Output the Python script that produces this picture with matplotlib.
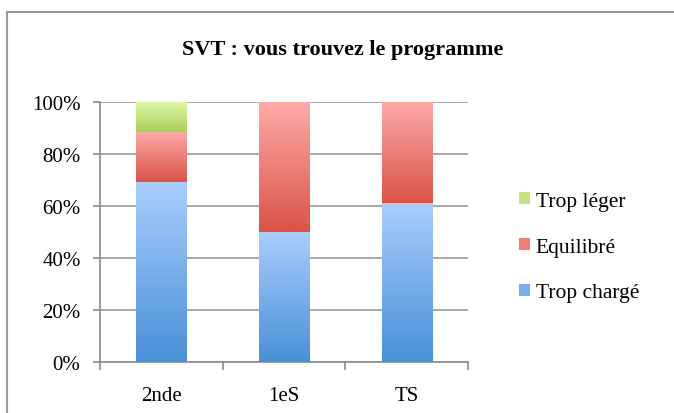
import matplotlib.pyplot as plt
import numpy as np
from matplotlib.colors import LinearSegmentedColormap
from matplotlib.patches import Rectangle

# Data (share of answers, in %)
categories = ['2nde', '1eS', 'TS']
trop_charge = [69.2, 50.0, 61.0]
equilibre = [19.2, 50.0, 39.0]
trop_leger = [11.6, 0.0, 0.0]
series_names = ['Trop chargé', 'Equilibré', 'Trop léger']

# gradient colours (top, bottom) for each series
grads = {
    'Trop chargé': ('#a9cdfd', '#4a90d8'),
    'Equilibré': ('#fdaaa9', '#da5449'),
    'Trop léger': ('#e0f8a8', '#a8d05a'),
}

plt.rcParams['font.family'] = ['Liberation Serif', 'DejaVu Serif']

fig = plt.figure(figsize=(6.74, 4.14), dpi=100)
ax = fig.add_axes([100 / 674, 1 - 363 / 414, 368 / 674, 260 / 414])

x = np.arange(len(categories))
bottom = np.zeros(len(categories))
handles = []
for name, vals in zip(series_names, [trop_charge, equilibre, trop_leger]):
    top_c, bot_c = grads[name]
    cmap = LinearSegmentedColormap.from_list(name, [bot_c, top_c])
    bars = ax.bar(x, vals, 0.41, bottom=bottom, color=top_c, edgecolor='none',
                  label=name, zorder=2)
    for b in bars:
        if b.get_height() <= 0:
            continue
        x0, y0 = b.get_x(), b.get_y()
        img = ax.imshow(np.linspace(0, 1, 100).reshape(-1, 1), cmap=cmap,
                        origin='lower', aspect='auto',
                        extent=[x0, x0 + b.get_width(), y0, y0 + b.get_height()],
                        zorder=3)
        img.set_clip_path(b)
    handles.append(bars)
    bottom += np.array(vals)

ax.set_xlim(-0.5, len(categories) - 0.5)
ax.set_ylim(0, 100)
ax.set_yticks(range(0, 101, 20))
ax.set_yticklabels([f'{v}%' for v in range(0, 101, 20)], fontsize=15)
ax.set_xticks(x)
ax.set_xticklabels(categories, fontsize=15)
ax.tick_params(axis='x', length=0, pad=17)
ax.tick_params(axis='y', length=5, color='#8c8c8c', width=1.2, pad=9)
ax.set_xticks([-0.5, 0.5, 1.5, 2.5], minor=True)
ax.tick_params(axis='x', which='minor', length=6, color='#8c8c8c', width=1.2)
ax.grid(axis='y', color='#999999', linewidth=1.2, zorder=0)
ax.set_axisbelow(True)
for s in ['top', 'right']:
    ax.spines[s].set_visible(False)
ax.spines['left'].set_color('#8c8c8c')
ax.spines['left'].set_linewidth(1.2)
ax.spines['bottom'].set_color('#8c8c8c')
ax.spines['bottom'].set_linewidth(1.2)

fig.text(343 / 674, 1 - 50 / 414, 'SVT : vous trouvez le programme',
         fontsize=16, fontweight='bold', ha='center', va='center')

leg = fig.legend(handles[::-1], series_names[::-1], loc='center left',
                 bbox_to_anchor=(500 / 674, 1 - 248 / 414), frameon=False,
                 fontsize=15.5, handlelength=0.5, handleheight=0.5,
                 handletextpad=0.25, labelspacing=1.25)
for h, name in zip(leg.legend_handles, series_names[::-1]):
    h.set_facecolor(LinearSegmentedColormap.from_list('m', [grads[name][1], grads[name][0]])(0.5))

fig.add_artist(Rectangle((7 / 674, -0.1), 1.1, 1 - 13 / 414 + 0.1,
                         transform=fig.transFigure, fill=False,
                         edgecolor='#999999', linewidth=1.5))

fig.savefig('out.png', dpi=100)
